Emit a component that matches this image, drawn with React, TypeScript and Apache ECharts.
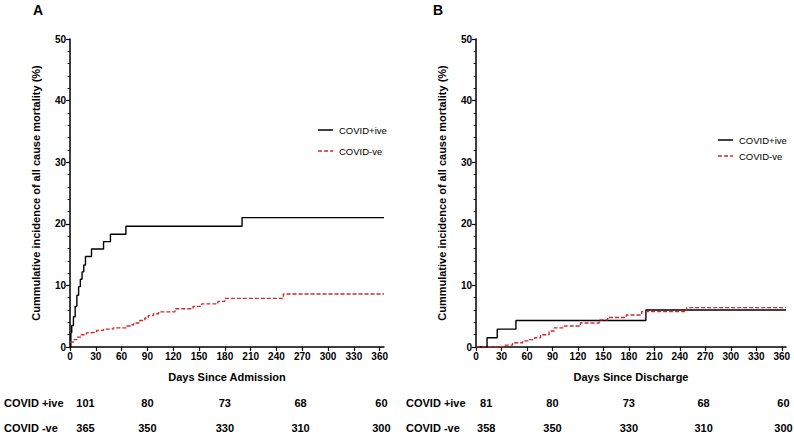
import React, { useEffect, useRef } from "react";
import * as echarts from "echarts";

// Panel A: days since admission
const posAdmission: [number, number][] = [
  [0, 0], [1, 2.3], [2, 3.5], [4, 4.9], [6, 6.6], [8, 8.4], [10, 9.8], [12, 11], [14, 12.2],
  [16, 13.3], [18, 14.7], [25, 15.9], [39, 17.1], [47, 18.3], [65, 19.6], [200, 21], [365, 21],
];
const negAdmission: [number, number][] = [
  [0, 0.8], [4, 1.2], [8, 1.6], [13, 2.0], [19, 2.3], [23, 2.4], [31, 2.7], [39, 2.9], [50, 3.1],
  [66, 3.4], [70, 3.6], [74, 3.9], [81, 4.3], [87, 4.7], [91, 5.1], [97, 5.4], [103, 5.7],
  [122, 6.2], [143, 6.6], [153, 7.0], [172, 7.4], [180, 7.9], [248, 8.6], [365, 8.6],
];
// Panel B: days since discharge
const posDischarge: [number, number][] = [
  [0, 0], [13, 1.5], [25, 2.9], [47, 4.3], [200, 6.0], [365, 6.0],
];
const negDischarge: [number, number][] = [
  [0, 0], [28, 0.1], [33, 0.3], [43, 0.7], [55, 1.0], [63, 1.2], [69, 1.5], [76, 2.0], [86, 2.6],
  [92, 3.1], [104, 3.4], [123, 3.9], [145, 4.4], [155, 4.8], [177, 5.2], [195, 5.75], [248, 6.4],
  [365, 6.4],
];

const xTicks = [0, 30, 60, 90, 120, 150, 180, 210, 240, 270, 300, 330, 360];
const seriesNames = ["COVID+ive", "COVID-ve"];
const tableRowLabels = ["COVID +ive", "COVID -ve"];
const riskA = [
  [101, 80, 73, 68, 60],
  [365, 350, 330, 310, 300],
];
const riskB = [
  [81, 80, 73, 68, 60],
  [358, 350, 330, 310, 300],
];

const FONT = "'Liberation Sans', Arial, Helvetica, sans-serif";
const RED = "#d02a2a";

export default function App() {
  const ref = useRef<HTMLDivElement>(null);
  useEffect(() => {
    if (!ref.current) return;
    const chart = echarts.init(ref.current, undefined, { renderer: "svg" });
    const grids = [
      { left: 70, top: 39, width: 314, height: 308 },
      { left: 476, top: 39, width: 310, height: 308 },
    ];
    const tableCols = [
      [18, 90, 180, 268, 362],
      [12, 90, 180, 268, 362],
    ];
    const xMax = 365;
    const dayToX = (g: number, d: number) => grids[g].left + (d / xMax) * grids[g].width;

    const xAxis = (g: number, name: string) => ({
      type: "value",
      gridIndex: g,
      min: 0,
      max: xMax,
      name,
      nameLocation: "middle",
      nameGap: 24,
      nameTextStyle: { fontFamily: FONT, fontWeight: "bold", fontSize: 11, color: "#000" },
      axisLine: { show: true, lineStyle: { color: "#000", width: 1.5 } },
      axisTick: { show: true, length: 4, lineStyle: { color: "#000", width: 1.2 }, customValues: xTicks },
      axisLabel: {
        fontFamily: FONT, fontWeight: "bold", fontSize: 10, color: "#000", margin: 4,
        customValues: xTicks,
      },
      splitLine: { show: false },
    });
    const yAxis = (g: number) => ({
      type: "value",
      gridIndex: g,
      min: 0,
      max: 50,
      interval: 10,
      name: "Cummulative incidence of all cause mortality (%)",
      nameLocation: "middle",
      nameGap: 29,
      nameTextStyle: { fontFamily: FONT, fontWeight: "bold", fontSize: 11, color: "#000" },
      axisLine: { show: true, lineStyle: { color: "#000", width: 1.5 } },
      axisTick: { show: true, length: 4, lineStyle: { color: "#000", width: 1.2 } },
      minorTick: { show: true, splitNumber: 5, length: 2.5, lineStyle: { color: "#000", width: 1 } },
      axisLabel: { fontFamily: FONT, fontWeight: "bold", fontSize: 10, color: "#000", margin: 4 },
      splitLine: { show: false },
    });
    const lineSeries = (g: number, name: string, data: [number, number][], neg: boolean) => ({
      type: "line",
      name,
      xAxisIndex: g,
      yAxisIndex: g,
      data,
      step: "end",
      showSymbol: false,
      symbol: "none",
      lineStyle: neg
        ? { color: RED, width: 1.4, type: [4, 2] }
        : { color: "#000", width: 1.4, type: "solid" },
      itemStyle: { color: neg ? RED : "#000" },
    });

    const g: any[] = [];
    g.push({ type: "text", left: 33, top: 3, style: { text: "A", font: `bold 14px ${FONT}`, fill: "#000" } });
    g.push({ type: "text", left: 433, top: 3, style: { text: "B", font: `bold 14px ${FONT}`, fill: "#000" } });
    const rowY = [403, 428];
    [riskA, riskB].forEach((risk, gi) => {
      const labelX = gi === 0 ? 4 : 406;
      tableRowLabels.forEach((lab, r) => {
        g.push({
          type: "text", x: labelX, y: rowY[r],
          style: { text: lab, font: `bold 11px ${FONT}`, fill: "#000", align: "left", verticalAlign: "middle" },
        });
        risk[r].forEach((v, c) => {
          g.push({
            type: "text", x: dayToX(gi, tableCols[gi][c]), y: rowY[r],
            style: { text: String(v), font: `bold 11px ${FONT}`, fill: "#000", align: "center", verticalAlign: "middle" },
          });
        });
      });
    });

    // legends
    const legendPos = [
      { x: 318, ys: [130, 151] },
      { x: 718, ys: [140, 156] },
    ];
    legendPos.forEach((lp) => {
      seriesNames.forEach((n, i) => {
        const y = lp.ys[i];
        g.push({
          type: "line",
          shape: { x1: lp.x, y1: y, x2: lp.x + 15, y2: y },
          style: i === 0
            ? { stroke: "#000", lineWidth: 1.5 }
            : { stroke: RED, lineWidth: 1.5, lineDash: [4, 2] },
        });
        g.push({
          type: "text", x: lp.x + 21, y,
          style: { text: n, font: `9.5px ${FONT}`, fill: "#000", verticalAlign: "middle", align: "left" },
        });
      });
    });

    chart.setOption({
      animation: false,
      backgroundColor: "#fff",
      grid: grids.map((gr) => ({ ...gr, containLabel: false })),
      xAxis: [xAxis(0, "Days Since Admission"), xAxis(1, "Days Since Discharge")],
      yAxis: [yAxis(0), yAxis(1)],
      series: [
        lineSeries(0, seriesNames[0], posAdmission, false),
        lineSeries(0, seriesNames[1], negAdmission, true),
        lineSeries(1, seriesNames[0], posDischarge, false),
        lineSeries(1, seriesNames[1], negDischarge, true),
      ],
      graphic: g,
    });
    return () => chart.dispose();
  }, []);
  return <div ref={ref} style={{ position: "fixed", left: 0, top: 0, width: 794, height: 439 }} />;
}
